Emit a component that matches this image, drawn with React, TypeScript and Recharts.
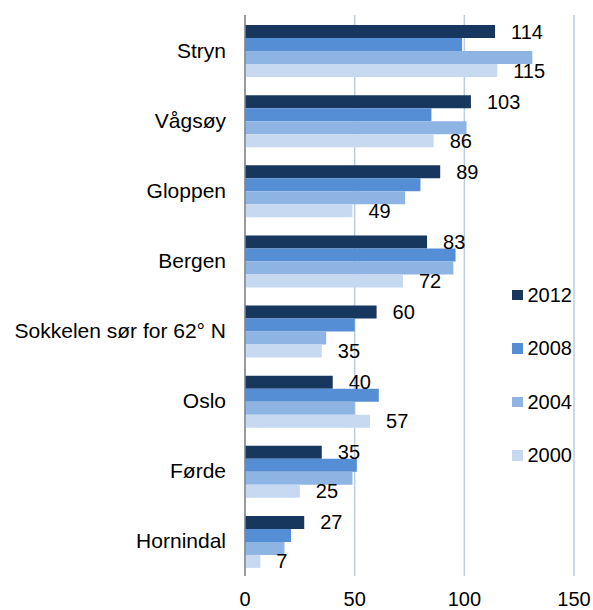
import React from 'react';
import { BarChart, Bar, XAxis, YAxis, CartesianGrid, LabelList } from 'recharts';

const categories = ['Stryn', 'Vågsøy', 'Gloppen', 'Bergen', 'Sokkelen sør for 62° N', 'Oslo', 'Førde', 'Hornindal'];
const values2012 = [114, 103, 89, 83, 60, 40, 35, 27];
const values2008 = [99, 85, 80, 96, 50, 61, 51, 21];
const values2004 = [131, 101, 73, 95, 37, 50, 49, 18];
const values2000 = [115, 86, 49, 72, 35, 57, 25, 7];
const xTicks = [0, 50, 100, 150];

const seriesNames = ['2012', '2008', '2004', '2000'];
const seriesColors = ['#17375e', '#558ed5', '#8eb4e3', '#c6d9f1'];

const data = categories.map((name, i) => ({
    name,
    y2012: values2012[i],
    y2008: values2008[i],
    y2004: values2004[i],
    y2000: values2000[i],
}));

const FONT = 'Arial, "Liberation Sans", sans-serif';

export default function App() {
    return (
        <div style={{ position: 'absolute', left: 0, top: 0, width: 593, height: 610, background: '#fff', fontFamily: FONT }}>
            <BarChart
                width={593}
                height={610}
                data={data}
                layout="vertical"
                margin={{ top: 15, right: 19, left: 0, bottom: 4 }}
                barCategoryGap={10}
                barGap={0}
            >
                <CartesianGrid horizontal={false} stroke="#b9cde5" strokeWidth={1.5} />
                <XAxis
                    type="number"
                    domain={[0, 150]}
                    ticks={xTicks}
                    axisLine={false}
                    tickLine={false}
                    tickMargin={10}
                    height={30}
                    tick={{ fontSize: 20, fill: '#000', fontFamily: FONT }}
                />
                <YAxis
                    type="category"
                    dataKey="name"
                    width={245}
                    axisLine={{ stroke: '#868686', strokeWidth: 1.5 }}
                    tickLine={false}
                    tickMargin={13}
                    interval={0}
                    tick={{ fontSize: 21, fill: '#000', fontFamily: FONT }}
                />
                <Bar dataKey="y2012" name="2012" fill={seriesColors[0]} isAnimationActive={false}>
                    <LabelList dataKey="y2012" position="right" offset={16} fill="#000" fontSize={20} fontFamily={FONT} />
                </Bar>
                <Bar dataKey="y2008" name="2008" fill={seriesColors[1]} isAnimationActive={false} />
                <Bar dataKey="y2004" name="2004" fill={seriesColors[2]} isAnimationActive={false} />
                <Bar dataKey="y2000" name="2000" fill={seriesColors[3]} isAnimationActive={false}>
                    <LabelList dataKey="y2000" position="right" offset={16} fill="#000" fontSize={20} fontFamily={FONT} />
                </Bar>
            </BarChart>

            {/* Legend */}
            <div style={{ position: 'absolute', left: 512, top: 268, width: 80 }}>
                {seriesNames.map((name, i) => (
                    <div key={name} style={{ display: 'flex', alignItems: 'center', height: 53.5 }}>
                        <div style={{ width: 10.5, height: 10.5, background: seriesColors[i] }} />
                        <span style={{ marginLeft: 5, fontSize: 20, color: '#000', lineHeight: '20px' }}>{name}</span>
                    </div>
                ))}
            </div>
        </div>
    );
}
